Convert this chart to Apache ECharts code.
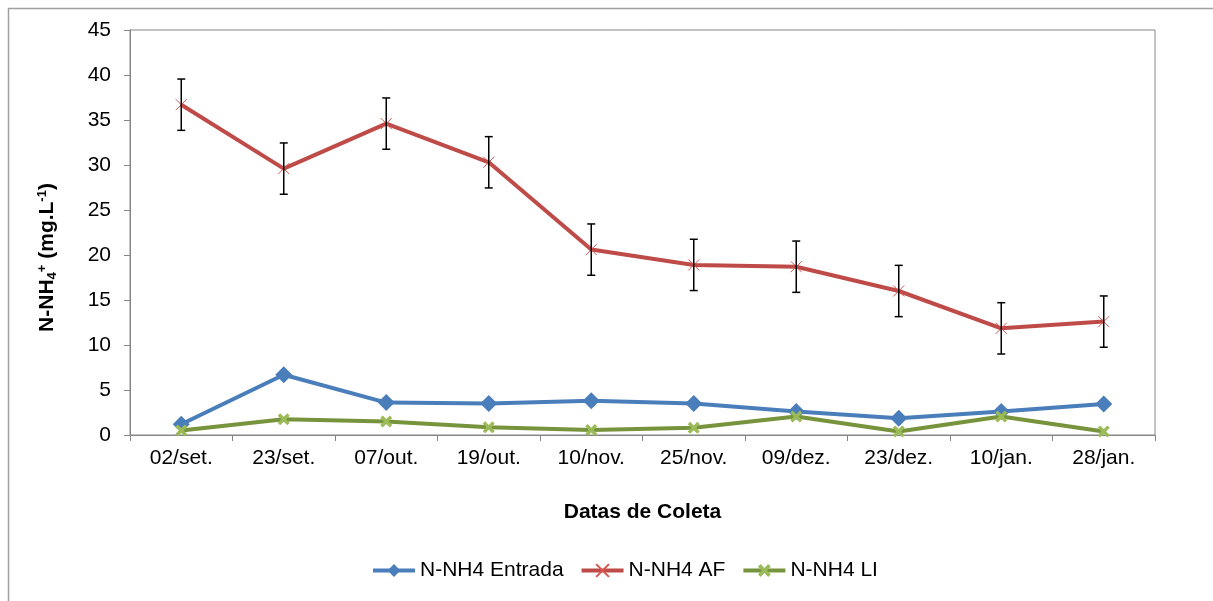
<!DOCTYPE html>
<html>
<head>
<meta charset="utf-8">
<script src="https://cdn.jsdelivr.net/npm/echarts@6/dist/echarts.min.js"></script>
<style>
  html, body { margin: 0; padding: 0; background: #fff; }
  #chart { width: 1213px; height: 601px; }
</style>
</head>
<body>
<div id="chart"></div>
<script>
// Collection dates
const categories = ['02/set.', '23/set.', '07/out.', '19/out.', '10/nov.', '25/nov.', '09/dez.', '23/dez.', '10/jan.', '28/jan.'];

// N-NH4 concentrations (mg/L)
const entrada = [1.2, 6.7, 3.6, 3.5, 3.8, 3.5, 2.6, 1.85, 2.6, 3.45];
const af      = [36.7, 29.6, 34.6, 30.3, 20.6, 18.9, 18.7, 16.0, 11.85, 12.6];
const li      = [0.5, 1.75, 1.5, 0.85, 0.55, 0.8, 2.05, 0.4, 2.05, 0.4];

// Error bar half-widths for the AF series
const afError = [2.85, 2.85, 2.85, 2.85, 2.85, 2.85, 2.85, 2.85, 2.85, 2.85];

// Axis ticks
const yMin = 0, yMax = 45, yStep = 5;

const FONT = '"Liberation Sans", Arial, sans-serif';
const FS = 21;
const AXIS_GRAY = '#868686';

const errorData = af.map((v, i) => [i, v - afError[i], v + afError[i]]);

const chart = echarts.init(document.getElementById('chart'), null, { renderer: 'canvas' });

chart.setOption({
  animation: false,
  backgroundColor: '#ffffff',
  textStyle: { fontFamily: FONT },
  graphic: [{
    type: 'rect',
    left: 6, top: 6,
    shape: { width: 1230, height: 620 },
    style: { fill: 'none', stroke: '#a0a0a0', lineWidth: 1.5 },
    silent: true, z: -1
  }],
  grid: {
    left: 130, right: 58, top: 30, bottom: 166,
    show: true, borderColor: AXIS_GRAY, borderWidth: 1
  },
  legend: {
    top: 555,
    left: 366,
    itemWidth: 42,
    itemHeight: 16,
    itemGap: 16,
    lineStyle: { width: 4 },
    textStyle: { fontSize: FS, color: '#000', fontFamily: FONT },
    data: ['N-NH4 Entrada', 'N-NH4 AF', 'N-NH4 LI']
  },
  xAxis: {
    type: 'category',
    data: categories,
    boundaryGap: true,
    name: 'Datas de Coleta',
    nameLocation: 'middle',
    nameGap: 67,
    nameTextStyle: { fontSize: FS, fontWeight: 'bold', color: '#000', fontFamily: FONT },
    axisLine: { lineStyle: { color: AXIS_GRAY, width: 1 } },
    axisTick: { show: true, alignWithLabel: false, length: 6, lineStyle: { color: AXIS_GRAY } },
    axisLabel: { fontSize: FS, color: '#000', margin: 13, fontFamily: FONT },
    splitLine: { show: false }
  },
  yAxis: {
    type: 'value',
    min: yMin, max: yMax, interval: yStep,
    name: 'N-NH{sub|4}{sup|+} (mg.L{sup|-1})',
    nameLocation: 'middle',
    nameRotate: 90,
    nameGap: 71,
    nameTextStyle: {
      fontSize: FS, fontWeight: 'bold', color: '#000', fontFamily: FONT,
      padding: [0, 50, 0, 0],
      rich: {
        sub: { fontSize: 13, fontWeight: 'bold', verticalAlign: 'bottom', padding: [10, 0, 0, 0] },
        sup: { fontSize: 13, fontWeight: 'bold', verticalAlign: 'top', padding: [0, 0, 10, 0] }
      }
    },
    axisLine: { show: true, lineStyle: { color: AXIS_GRAY, width: 1 } },
    axisTick: { show: true, length: 6, lineStyle: { color: AXIS_GRAY } },
    axisLabel: { fontSize: FS, color: '#000', margin: 19, fontFamily: FONT },
    splitLine: { show: false }
  },
  series: [
    {
      name: 'N-NH4 Entrada',
      type: 'line',
      data: entrada,
      color: '#4A7EBB',
      symbol: 'diamond',
      symbolSize: 17,
      lineStyle: { width: 4, color: '#4A7EBB' },
      itemStyle: { color: '#4A7EBB' },
      z: 3
    },
    {
      name: 'N-NH4 AF',
      type: 'line',
      data: af,
      color: '#BE4B48',
      symbol: 'path://M0,0L10,10M10,0L0,10',
      symbolSize: 11,
      lineStyle: { width: 4, color: '#BE4B48' },
      itemStyle: { color: '#BE4B48', borderColor: '#D9534F', borderWidth: 1 },
      z: 3
    },
    {
      name: 'N-NH4 LI',
      type: 'line',
      data: li,
      color: '#77933C',
      symbol: 'path://M2,0L5,3L8,0L10,2L7,5L10,8L8,10L5,7L2,10L0,8L3,5L0,2Z',
      symbolSize: 12,
      lineStyle: { width: 4, color: '#77933C' },
      itemStyle: { color: '#9BBB59' },
      z: 4
    },
    {
      name: 'AF error',
      type: 'custom',
      data: errorData,
      z: 5,
      silent: true,
      renderItem: function (params, api) {
        const x = api.value(0);
        const low = api.coord([x, api.value(1)]);
        const high = api.coord([x, api.value(2)]);
        const cap = 4;
        const style = { stroke: '#000', lineWidth: 1.5 };
        return {
          type: 'group',
          children: [
            { type: 'line', shape: { x1: high[0], y1: high[1], x2: low[0], y2: low[1] }, style: style },
            { type: 'line', shape: { x1: high[0] - cap, y1: high[1], x2: high[0] + cap, y2: high[1] }, style: style },
            { type: 'line', shape: { x1: low[0] - cap, y1: low[1], x2: low[0] + cap, y2: low[1] }, style: style }
          ]
        };
      }
    }
  ]
});
</script>
</body>
</html>
